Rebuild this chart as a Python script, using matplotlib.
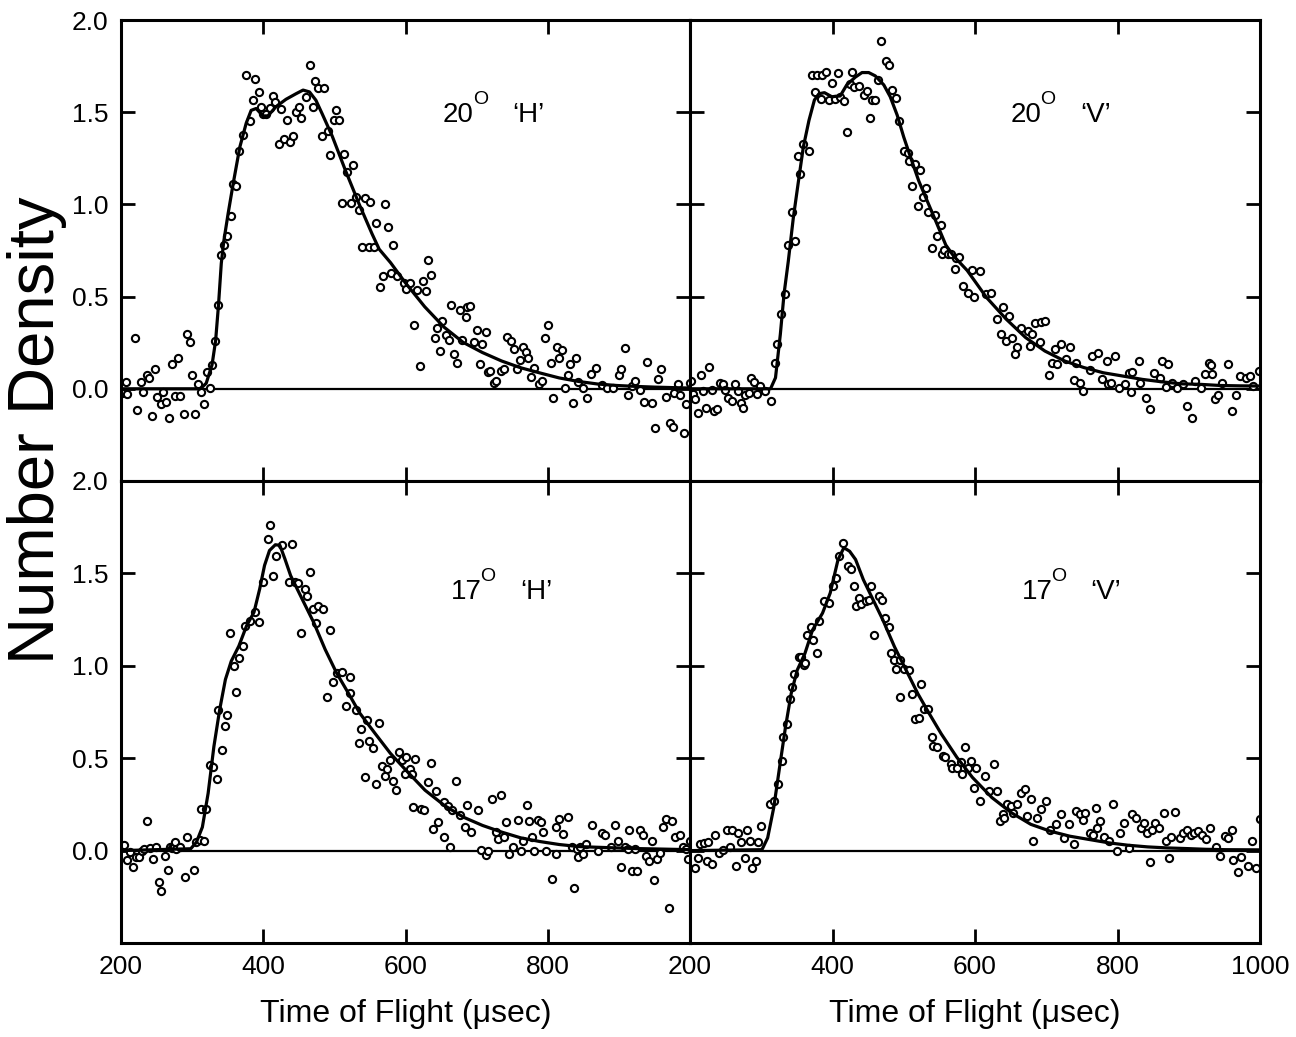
import matplotlib
matplotlib.use("Agg")
import matplotlib.pyplot as plt

plt.rcParams['font.family'] = ['Liberation Sans', 'DejaVu Sans']

# ---------------- data ----------------
# 20 deg 'H'
tl_t = [201, 206.5, 209, 219, 222.7, 228, 230.8, 236, 239, 243, 248, 250.7, 256, 259, 263.7,
        267.5, 272, 275.5, 280.4, 283.6, 288.5, 292.8, 296.6, 299.8, 304.7, 308, 312, 316,
        320.9, 325, 328.4, 332, 336, 340, 345, 349, 354, 357.6, 361, 366, 371.5, 376, 381,
        385.6, 389, 394, 397, 400, 404, 409, 413.5, 417, 421.5, 425, 429, 433.6, 437, 441.5,
        446, 450, 453, 460, 465.7, 469.5, 473, 477, 482, 485.8, 490.4, 494, 499, 502, 507,
        510.5, 514, 518, 523, 526, 530, 534.7, 539, 542.7, 548, 550, 556, 559, 570.6, 575,
        582.7, 563.7, 568, 580, 588.6, 597.7, 600.4, 607, 612, 615.5, 621, 624.7, 628.5,
        631.8, 636, 641, 643.6, 648, 652, 657, 661, 664, 668, 672, 677, 680, 684.7, 686.8,
        690, 696.5, 700.8, 704.6, 708, 712.7, 716.5, 719, 724.5, 727, 734, 738, 743.4, 747.7,
        752.6, 757, 760.7, 765, 768.8, 772, 777, 781, 788, 792, 795.8, 800, 804.4, 808, 812.5,
        816, 820.6, 824.4, 828, 831.4, 836, 839.5, 843, 849.7, 855.7, 860.5, 867.6, 875.6,
        883.7, 891.8, 899.8, 902.6, 908, 913.4, 918.8, 923, 929.6, 935, 939, 947, 951, 955.5,
        959, 966, 971.7, 975.5, 978, 982.6, 986.4, 991.8, 994.5, 999.8]
tl_n = [-0.024, 0.035, -0.03, 0.276, -0.116, 0.037, -0.015, 0.074, 0.059, -0.147, 0.11, -0.042,
        -0.083, -0.015, -0.07, -0.156, 0.132, -0.037, 0.165, -0.037, -0.138, 0.298, 0.255,
        0.077, -0.134, 0.026, -0.018, -0.081, 0.092, 0.004, 0.129, 0.26, 0.454, 0.724, 0.78,
        0.83, 0.935, 1.11, 1.10, 1.29, 1.375, 1.70, 1.45, 1.565, 1.68, 1.61, 1.53, 1.49, 1.49,
        1.525, 1.59, 1.556, 1.326, 1.52, 1.357, 1.457, 1.34, 1.37, 1.50, 1.53, 1.47, 1.58,
        1.755, 1.53, 1.67, 1.63, 1.37, 1.63, 1.40, 1.27, 1.46, 1.51, 1.46, 1.01, 1.275, 1.175,
        1.01, 1.215, 1.04, 0.97, 0.77, 1.035, 0.77, 1.015, 0.77, 0.90, 1.003, 0.875, 0.78,
        0.55, 0.614, 0.629, 0.614, 0.574, 0.54, 0.574, 0.344, 0.537, 0.123, 0.583, 0.528,
        0.697, 0.618, 0.276, 0.331, 0.206, 0.366, 0.292, 0.265, 0.454, 0.1875, 0.1415, 0.43,
        0.265, 0.39, 0.445, 0.449, 0.252, 0.32, 0.132, 0.243, 0.31, 0.092, 0.096, 0.031, 0.044,
        0.096, 0.105, 0.283, 0.261, 0.215, 0.105, 0.158, 0.224, 0.197, 0.169, 0.064, 0.114,
        0.026, 0.04, 0.276, 0.344, 0.1415, -0.048, 0.224, 0.169, 0.21, 0.004, 0.077, 0.132,
        -0.079, 0.165, 0.037, 0.007, -0.051, 0.081, 0.114, 0.022, 0.004, 0.004, 0.077, 0.105,
        0.22, -0.033, 0.013, 0.04, -0.005, -0.074, 0.147, -0.079, -0.213, 0.053, 0.11, -0.042,
        -0.184, -0.208, -0.024, 0.026, -0.033, -0.241, -0.085, 0.031]
tl_fit_t = [200, 311.7, 319.8, 328, 333, 337, 341, 344.5, 350.6, 357.6, 367, 376, 383, 390,
            399.5, 406.5, 418, 432, 446, 456, 465, 474, 483, 497, 516, 535, 553, 563, 579, 600,
            627, 654, 681, 708, 735, 762, 789, 816, 843, 870, 897, 924, 951, 1000]
tl_fit_n = [0, 0, 0.03, 0.13, 0.26, 0.45, 0.68, 0.8, 0.95, 1.11, 1.31, 1.44, 1.51, 1.52,
            1.48, 1.48, 1.53, 1.57, 1.60, 1.62, 1.61, 1.565, 1.49, 1.37, 1.18, 1.00, 0.84,
            0.757, 0.684, 0.574, 0.445, 0.335, 0.252, 0.197, 0.151, 0.114, 0.086, 0.059, 0.04,
            0.026, 0.018, 0.013, 0.009, 0.004]

# 20 deg 'V'
tr_t = [201, 203.8, 207.6, 210.9, 214.8, 218.6, 221.9, 227.3, 231, 233.9, 238.3, 242, 246, 249,
        253, 258.5, 262.8, 266.7, 271, 274.9, 277.6, 283, 285.8, 289.6, 294, 298.4, 305, 314,
        318.6, 322.4, 328.4, 333.3, 337.9, 342.6, 347, 351, 354.4, 359, 367, 370.8, 375.5,
        377.9, 384, 385, 390.6, 395, 399, 403.8, 407.5, 410.8, 415.5, 420, 425, 427, 430.6,
        437.6, 444.7, 448.5, 452, 455.5, 460, 463.5, 468, 475, 479, 483.8, 488.5, 493, 500,
        506, 507, 511, 515.8, 519.5, 522.8, 527.5, 531.8, 534.6, 539, 543.5, 547, 552, 553.6,
        556.7, 561.7, 567, 571.6, 573, 578, 582.5, 590, 595.6, 599, 607, 616, 622, 631, 636,
        639.3, 643.7, 647.5, 652.5, 656.4, 659, 664.5, 673.8, 676.5, 680, 684.7, 691.8, 693,
        698, 703.8, 707.6, 712, 714.8, 720, 728.4, 734, 739, 742, 747.5, 751, 761.5, 763.9,
        772, 778, 784.7, 786.6, 791, 796.7, 802, 810, 816, 819.5, 820, 829.5, 832, 840, 846,
        851, 859.6, 862.3, 867.8, 870.5, 876, 884, 892, 898, 905, 908.7, 917, 922.4, 928,
        930.6, 933.3, 937, 941.5, 947, 955, 960.7, 966, 971.6, 979.8, 985.3, 990.7, 999]
tr_n = [0.042, -0.027, -0.058, -0.131, 0.075, -0.013, -0.104, 0.118, -0.009, -0.118, -0.107,
        0.033, 0.024, -0.009, -0.049, -0.067, 0.027, -0.013, -0.076, -0.104, -0.031, -0.022,
        0.06, 0.038, -0.027, 0.015, -0.013, -0.064, 0.142, 0.245, 0.405, 0.515, 0.78, 0.96,
        0.80, 1.264, 1.164, 1.325, 1.29, 1.70, 1.61, 1.70, 1.57, 1.70, 1.72, 1.566, 1.66, 1.57,
        1.715, 1.58, 1.56, 1.39, 1.653, 1.72, 1.635, 1.64, 1.593, 1.617, 1.47, 1.566, 1.566,
        1.675, 1.885, 1.776, 1.757, 1.62, 1.575, 1.45, 1.29, 1.28, 1.237, 1.10, 1.219, 0.99,
        1.186, 1.04, 1.09, 0.96, 0.766, 0.945, 0.827, 0.887, 0.733, 0.754, 0.733, 0.733, 0.65,
        0.71, 0.715, 0.555, 0.518, 0.645, 0.50, 0.638, 0.515, 0.518, 0.378, 0.296, 0.445,
        0.26, 0.393, 0.275, 0.187, 0.224, 0.33, 0.311, 0.233, 0.296, 0.356, 0.255, 0.36,
        0.365, 0.073, 0.142, 0.215, 0.133, 0.242, 0.16, 0.227, 0.05, 0.142, 0.033, -0.013,
        0.1, 0.178, 0.196, 0.051, 0.151, 0.024, 0.033, 0.178, 0.005, 0.024, 0.087, -0.016,
        0.093, 0.151, 0.033, -0.049, -0.107, 0.087, 0.06, 0.151, 0.009, 0.133, 0.033, 0.005,
        0.024, -0.095, -0.158, 0.042, 0.005, 0.078, 0.142, 0.13, 0.078, -0.058, -0.031, 0.033,
        0.133, -0.118, -0.035, 0.069, 0.056, 0.069, 0.015, 0.096]
tr_fit_t = [200, 313, 320, 326.8, 332, 337.9, 345, 352, 359, 367, 374.6, 381, 388.7, 399,
            410.8, 420, 432, 441.4, 450.8, 460, 472, 481, 490.8, 500, 509.6, 521, 533, 545,
            559, 570, 589, 616, 643.7, 671, 698, 725.7, 753, 780, 807.7, 835, 862, 889.6, 917,
            944, 971.6, 1000]
tr_fit_n = [0, 0, 0.06, 0.296, 0.515, 0.69, 0.927, 1.12, 1.31, 1.456, 1.566, 1.60, 1.606,
            1.584, 1.588, 1.648, 1.69, 1.715, 1.715, 1.697, 1.648, 1.584, 1.484, 1.365, 1.255,
            1.128, 1.018, 0.909, 0.78, 0.72, 0.642, 0.496, 0.378, 0.278, 0.205, 0.151, 0.115,
            0.087, 0.069, 0.051, 0.038, 0.027, 0.024, 0.018, 0.016, 0.015]

# 17 deg 'H'
bl_t = [203.8, 209, 212.7, 217, 221, 225.4, 229, 232.4, 236, 240.5, 245.3, 248.6, 253.4, 256.7,
        261.5, 265.8, 268.5, 272.3, 274, 276.6, 278, 283, 290, 292.8, 302.5, 306, 311.7, 313,
        317, 319.8, 325, 329.5, 334.4, 337, 342.5, 345.7, 349.5, 353.8, 358.7, 362, 366, 371,
        374.8, 381.9, 388.9, 393.7, 399, 406, 409.4, 414, 418.6, 426, 436.9, 441, 445, 449.3,
        453, 458.5, 461.7, 465.5, 469.3, 473.6, 476.3, 484.4, 489.8, 493.6, 497.9, 503.3,
        511.4, 516.8, 522, 522, 530, 534, 537.3, 542.7, 545.4, 549, 554.6, 558.3, 562.6, 566.4,
        570.7, 574.5, 578.8, 583, 587, 591.3, 595, 598.8, 600.4, 605.8, 608.5, 611, 613.9, 622,
        626.3, 631.2, 635.5, 638.2, 642.5, 646.3, 654.4, 654.5, 659.8, 662, 665, 670.6, 676,
        684, 686.8, 692.2, 701.9, 705.6, 713.8, 716.5, 721.9, 727.3, 730, 733.7, 738, 741.8,
        746, 750.5, 758, 762.3, 765, 770.4, 773, 778.5, 781, 786.6, 790.4, 793.6, 797.4, 806.6,
        811, 812, 816.3, 821.7, 828, 833.6, 837.4, 840.6, 843, 846, 849.7, 854, 862, 870.3,
        876.7, 881, 889, 894.5, 898.3, 902.6, 908, 913.4, 914.5, 918.8, 923.3, 925.3, 929.6,
        934, 938, 942.4, 946, 950, 954, 957.9, 962.3, 966.6, 970, 974.2, 978.5, 986.6, 990.4,
        994.7, 997.4, 1000]
bl_n = [0.033, -0.05, -0.009, -0.087, -0.036, -0.033, -0.004, 0.009, 0.16, 0.015, -0.045, 0.018,
        -0.172, -0.218, -0.027, -0.105, 0.018, 0.015, 0.022, 0.045, 0.009, 0.022, -0.142, 0.073,
        -0.105, 0.045, 0.058, 0.227, 0.054, 0.227, 0.463, 0.454, 0.39, 0.762, 0.544, 0.675,
        0.735, 1.18, 0.998, 0.857, 1.044, 1.107, 1.216, 1.243, 1.289, 1.238, 1.452, 1.688,
        1.76, 1.488, 1.593, 1.655, 1.452, 1.66, 1.452, 1.448, 1.18, 1.416, 1.376, 1.506, 1.307,
        1.23, 1.321, 1.307, 0.831, 1.194, 0.911, 0.962, 0.966, 0.784, 0.938, 0.853, 0.762,
        0.584, 0.657, 0.399, 0.708, 0.595, 0.553, 0.359, 0.69, 0.457, 0.403, 0.439, 0.49,
        0.377, 0.327, 0.532, 0.49, 0.412, 0.505, 0.439, 0.417, 0.236, 0.494, 0.227, 0.221,
        0.372, 0.475, 0.118, 0.321, 0.154, 0.263, 0.076, 0.24, 0.022, 0.218, 0.377, 0.194,
        0.127, 0.245, 0.1, 0.221, 0.004, -0.022, 0.0, 0.281, 0.1, 0.064, 0.299, 0.073, 0.154,
        -0.018, 0.022, 0.167, 0.0, 0.054, 0.245, 0.16, 0.073, 0.0, 0.167, 0.154, 0.1, 0.0,
        -0.154, -0.018, 0.127, 0.172, 0.091, 0.181, 0.022, -0.2, 0.009, -0.036, 0.018, -0.018,
        0.036, 0.136, 0.0, 0.094, 0.082, 0.022, 0.136, 0.054, -0.091, 0.022, 0.009, 0.109,
        -0.109, 0.009, -0.113, 0.113, 0.082, -0.027, -0.054, 0.051, -0.16, -0.045, -0.015,
        0.127, 0.172, -0.312, 0.16, 0.073, 0.082, 0.022, 0.009, -0.045, 0.054]
bl_fit_t = [200, 298, 306, 314.4, 322.5, 330.6, 338.7, 346.8, 355, 365.7, 376.5, 387, 395,
            401.8, 408.8, 417, 423.4, 430.4, 438.5, 454.7, 471, 487, 503, 519.5, 535.7, 557,
            578.8, 600.4, 627.4, 654.4, 681.4, 708.4, 735.4, 762, 789, 816, 843, 870, 897, 924,
            951, 1000]
bl_fit_n = [0, 0.01, 0.045, 0.127, 0.31, 0.563, 0.762, 0.926, 1.025, 1.107, 1.216, 1.29,
            1.416, 1.543, 1.624, 1.655, 1.652, 1.579, 1.488, 1.361, 1.234, 1.089, 0.962, 0.853,
            0.744, 0.635, 0.526, 0.436, 0.327, 0.245, 0.181, 0.136, 0.1, 0.069, 0.049, 0.033,
            0.022, 0.018, 0.0145, 0.011, 0.009, 0.005]

# 17 deg 'V'
br_t = [207, 211, 213.7, 219, 223.5, 225.7, 231, 235.5, 240, 246.5, 252, 256, 258.5, 264.5,
        266.7, 271, 276.5, 279.3, 283.6, 287.5, 293, 295.7, 300, 312, 317.5, 323, 328.5, 331,
        336.7, 340.5, 343.8, 346.5, 353, 355.8, 359.6, 361.3, 364, 369.5, 372.2, 377.7, 381.5,
        388.6, 395, 400.6, 405, 409.4, 414.3, 421.4, 425.8, 429.6, 433.5, 437.8, 440.6, 447.7,
        451.5, 454.2, 458.6, 465, 469.5, 473.4, 478.8, 481.6, 486, 489.8, 495.2, 495.2, 500.7,
        507.8, 511.6, 516, 521, 524, 528, 533.5, 539, 541.7, 547, 555.4, 558, 566, 568, 574.5,
        580, 581.6, 586.6, 590, 593.7, 599, 601.8, 607.3, 614, 619.4, 626.5, 630.3, 634.7, 639,
        641.2, 644.5, 651, 653.8, 659.3, 664.8, 670, 673, 678.4, 681.2, 686.6, 692, 699, 705.7,
        713, 721, 725, 732, 738.5, 741.3, 746.7, 752, 754.9, 761.5, 766, 770.2, 771.3, 775.7,
        781.2, 787.7, 794.3, 798.7, 804, 808.5, 816.2, 820.5, 826, 832.6, 837, 841, 845, 848.4,
        853, 858.8, 865.3, 868.7, 872.5, 875.2, 880.7, 887.3, 891.6, 897, 902.6, 907.9, 913.5,
        918.8, 924.4, 929.9, 938.4, 943.8, 951, 954.7, 960.2, 962.8, 969.4, 973.8, 983.6,
        989.1, 994.5, 1000]
br_n = [-0.094, -0.04, 0.036, 0.042, -0.058, 0.045, -0.073, 0.083, -0.013, 0.005, 0.114, 0.018,
        0.109, -0.085, 0.096, 0.047, -0.04, 0.114, 0.051, -0.094, -0.058, 0.047, 0.132, 0.254,
        0.269, 0.359, 0.486, 0.613, 0.686, 0.822, 0.886, 0.958, 1.049, 1.045, 1.004, 1.013,
        1.167, 1.209, 1.14, 1.071, 1.24, 1.348, 1.339, 1.43, 1.476, 1.593, 1.666, 1.539, 1.525,
        1.434, 1.321, 1.367, 1.336, 1.348, 1.354, 1.434, 1.167, 1.376, 1.357, 1.258, 1.212,
        1.067, 1.031, 0.985, 1.031, 0.831, 0.985, 0.976, 0.846, 0.713, 0.719, 0.9, 0.768, 0.768,
        0.613, 0.568, 0.559, 0.514, 0.505, 0.468, 0.446, 0.446, 0.477, 0.414, 0.559, 0.446,
        0.486, 0.338, 0.446, 0.269, 0.405, 0.323, 0.468, 0.323, 0.16, 0.2, 0.174, 0.25, 0.241,
        0.205, 0.25, 0.309, 0.332, 0.187, 0.278, 0.051, 0.178, 0.223, 0.269, 0.109, 0.142,
        0.196, 0.069, 0.142, 0.036, 0.214, 0.196, 0.163, 0.205, 0.096, 0.087, 0.232, 0.123,
        0.16, 0.073, 0.051, 0.254, -0.004, 0.096, 0.151, 0.015, 0.196, 0.178, 0.123, 0.151,
        0.096, -0.062, 0.114, 0.151, 0.12, 0.205, 0.051, -0.04, 0.073, 0.21, 0.069, 0.096,
        0.109, 0.087, 0.096, 0.105, 0.083, 0.065, 0.123, 0.018, -0.031, 0.078, 0.069, 0.109,
        -0.049, -0.116, -0.036, -0.085, 0.051, -0.094, 0.169]
br_fit_t = [200, 301, 309, 317.5, 325.7, 334, 342, 350.4, 361.3, 372, 386, 396.8, 407.8, 416,
            424, 432.4, 443.3, 457, 470.6, 487, 503.4, 519.8, 536, 552.6, 574.5, 596.4, 623.7,
            651, 678.4, 705.7, 733, 760.4, 787.7, 815, 842.4, 869.8, 897, 924.4, 951.8, 1000]
br_fit_n = [0, 0.005, 0.069, 0.232, 0.45, 0.668, 0.85, 0.976, 1.067, 1.194, 1.285, 1.394,
            1.575, 1.639, 1.62, 1.575, 1.466, 1.357, 1.249, 1.103, 0.976, 0.849, 0.74, 0.632,
            0.505, 0.396, 0.287, 0.205, 0.142, 0.105, 0.078, 0.06, 0.042, 0.029, 0.02, 0.0145,
            0.011, 0.007, 0.005, 0.004]

angles = ['20', '20', '17', '17']
pols = ['\u2018H\u2019', '\u2018V\u2019', '\u2018H\u2019', '\u2018V\u2019']

# ---------------- figure ----------------
W, H = 1296, 1037
fig = plt.figure(figsize=(W / 100, H / 100), dpi=100)

xl, xm, xr = 121 / W, 690 / W, 1260 / W
yt, ym, yb = 1 - 20 / H, 1 - 481 / H, 1 - 943 / H

rects = [(xl, ym, xm - xl, yt - ym), (xm, ym, xr - xm, yt - ym),
         (xl, yb, xm - xl, ym - yb), (xm, yb, xr - xm, ym - yb)]
series = [(tl_t, tl_n, tl_fit_t, tl_fit_n), (tr_t, tr_n, tr_fit_t, tr_fit_n),
          (bl_t, bl_n, bl_fit_t, bl_fit_n), (br_t, br_n, br_fit_t, br_fit_n)]
lab_pos = [(0.566, 0.779), (0.563, 0.779), (0.580, 0.745), (0.582, 0.745)]

for i, (rect, (t, n, ft, fn)) in enumerate(zip(rects, series)):
    ax = fig.add_axes(rect)
    ax.axhline(0, color='black', lw=1.6, zorder=1)
    ax.plot(t, n, 'o', ms=5.2, mfc='white', mec='black', mew=1.5, zorder=2)
    ax.plot(ft, fn, '-', color='black', lw=2.3, zorder=3)
    ax.set_xlim(200, 1000)
    ax.set_ylim(-0.5, 2.0)
    for s in ax.spines.values():
        s.set_linewidth(2.2)
    ax.set_xticks([200, 400, 600, 800, 1000])
    ax.set_yticks([0, 0.5, 1.0, 1.5, 2.0])
    ax.tick_params(direction='in', length=10, width=2, top=True, right=True,
                   labelsize=19, pad=9)
    if i % 2 == 0:
        ax.set_yticklabels(['0.0', '0.5', '1.0', '1.5', '2.0'])
    else:
        ax.set_yticklabels([])
    if i < 2:
        ax.set_xticklabels([])
    else:
        if i == 2:
            ax.set_xticklabels(['200', '400', '600', '800', ''])
        else:
            ax.set_xticklabels(['200', '400', '600', '800', '1000'])
        ax.set_xlabel('Time of Flight (\u03bcsec)', fontsize=23, labelpad=14)

    lx, ly = lab_pos[i]
    ax.text(lx, ly, angles[i], transform=ax.transAxes, fontsize=20,
            ha='left', va='baseline')
    ax.text(lx + 0.052, ly + 0.038, 'O', transform=ax.transAxes, fontsize=14,
            ha='left', va='baseline')
    ax.text(lx + 0.121, ly, pols[i], transform=ax.transAxes, fontsize=20,
            ha='left', va='baseline')

fig.text(37 / W, 1 - 430 / H, 'Number Density', rotation=90, ha='center', va='center',
         fontsize=47)

fig.savefig('out.png', dpi=100)
